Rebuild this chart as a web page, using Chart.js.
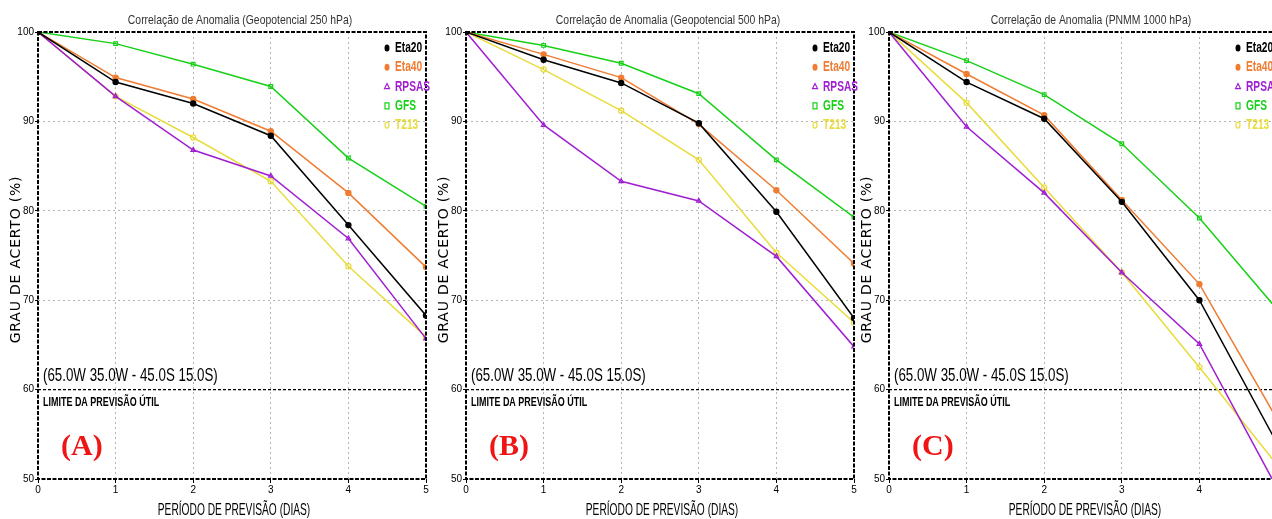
<!DOCTYPE html>
<html>
<head>
<meta charset="utf-8">
<script src="https://cdn.jsdelivr.net/npm/chart.js@4"></script>
<style>
  html, body { margin: 0; padding: 0; background: #fff; }
  body { width: 1272px; height: 519px; overflow: hidden; position: relative; }
  canvas { position: absolute; top: 0; }
</style>
</head>
<body>
<canvas id="chartA" width="440" height="519" style="left:0px"></canvas>
<canvas id="chartB" width="440" height="519" style="left:428px"></canvas>
<canvas id="chartC" width="440" height="519" style="left:851px"></canvas>
<script>
// forecast day (x) and models
const days = [0, 1, 2, 3, 4, 5];
const modelNames = ['Eta20', 'Eta40', 'RPSAS', 'GFS', 'T213'];
const yTickValues = [50, 60, 70, 80, 90, 100];
const limitValue = 60;

const panelTitles = [
  'Correlação de Anomalia (Geopotencial 250 hPa)',
  'Correlação de Anomalia (Geopotencial 500 hPa)',
  'Correlação de Anomalia (PNMM 1000 hPa)',
];
const panelLetters = ['(A)', '(B)', '(C)'];
const regionLabel = '(65.0W 35.0W - 45.0S 15.0S)';
const limitLabel = 'LIMITE DA PREVISÃO ÚTIL';
const xTitle = 'PERÍODO DE PREVISÃO (DIAS)';
const yTitle = 'GRAU DE ACERTO (%)';

// (A) geopotential 250 hPa
const z250Eta20 = [100, 94.4, 92.0, 88.4, 78.4, 68.3];
const z250Eta40 = [100, 94.9, 92.5, 88.9, 82.0, 73.7];
const z250Rpsas = [100, 92.8, 86.8, 83.9, 76.9, 65.7];
const z250Gfs   = [100, 98.7, 96.4, 93.9, 85.9, 80.5];
const z250T213  = [100, 92.8, 88.2, 83.3, 73.8, 65.9];

// (B) geopotential 500 hPa
const z500Eta20 = [100, 96.9, 94.3, 89.8, 79.9, 68.0];
const z500Eta40 = [100, 97.5, 94.9, 89.7, 82.3, 74.1];
const z500Rpsas = [100, 89.6, 83.3, 81.1, 74.9, 64.8];
const z500Gfs   = [100, 98.5, 96.5, 93.1, 85.7, 79.3];
const z500T213  = [100, 95.8, 91.2, 85.7, 75.3, 67.5];

// (C) sea level pressure 1000 hPa
const p1000Eta20 = [100, 94.4, 90.3, 81.0, 70.0, 54.0];
const p1000Eta40 = [100, 95.3, 90.7, 81.2, 71.8, 56.7];
const p1000Rpsas = [100, 89.4, 82.0, 73.1, 65.1, 49.0];
const p1000Gfs   = [100, 96.8, 93.0, 87.5, 79.2, 69.0];
const p1000T213  = [100, 92.1, 82.6, 73.1, 62.5, 51.6];

// styles
const seriesColors = ['#000000', '#f07c32', '#a01ed2', '#18d018', '#e8dc3c'];
const pointStyles = ['circle', 'circle', 'triangle', 'rect', 'circle'];
const pointFilled = [true, true, false, false, false];

const NARROW = '"Liberation Sans", sans-serif';

// draw horizontally squeezed text (the original uses a narrow plotter font)
function squeezedText(ctx, text, x, y, font, color, align, sx) {
  ctx.save();
  ctx.font = font;
  ctx.fillStyle = color;
  ctx.textAlign = align;
  ctx.textBaseline = 'middle';
  ctx.translate(x, y);
  ctx.scale(sx, 1);
  ctx.fillText(text, 0, 0);
  ctx.restore();
}

function legendMarker(ctx, i, x, y) {
  ctx.save();
  ctx.strokeStyle = seriesColors[i];
  ctx.fillStyle = seriesColors[i];
  ctx.lineWidth = 1.2;
  ctx.beginPath();
  if (pointStyles[i] === 'circle' && pointFilled[i]) {
    ctx.ellipse(x, y, 2.5, 3.5, 0, 0, Math.PI * 2);
    ctx.fill();
  } else if (pointStyles[i] === 'circle') {
    ctx.ellipse(x, y, 2, 3, 0, 0, Math.PI * 2);
    ctx.stroke();
  } else if (pointStyles[i] === 'triangle') {
    ctx.moveTo(x, y - 3);
    ctx.lineTo(x + 2.5, y + 2);
    ctx.lineTo(x - 2.5, y + 2);
    ctx.closePath();
    ctx.stroke();
  } else {
    ctx.rect(x - 2, y - 3, 4, 6);
    ctx.stroke();
  }
  ctx.restore();
}

const panelDecor = {
  id: 'panelDecor',
  beforeDatasetsDraw(chart, args, opts) {
    const { ctx, chartArea } = chart;
    const y = chart.scales.y.getPixelForValue(limitValue);
    ctx.save();
    ctx.strokeStyle = '#000';
    ctx.lineWidth = 1.2;
    ctx.setLineDash([3, 2]);
    ctx.beginPath();
    ctx.moveTo(chartArea.left, y);
    ctx.lineTo(chartArea.right, y);
    ctx.stroke();
    ctx.restore();
  },
  afterDraw(chart, args, opts) {
    const { ctx, chartArea } = chart;
    const { left, right, top, bottom } = chartArea;
    const cx = (left + right) / 2;
    const yLimit = chart.scales.y.getPixelForValue(limitValue);

    // dashed frame
    ctx.save();
    ctx.strokeStyle = '#000';
    ctx.lineWidth = 2;
    ctx.setLineDash([4, 1.5]);
    ctx.strokeRect(left, top, right - left, bottom - top);
    ctx.restore();

    // title
    squeezedText(ctx, opts.title, cx + 8, 20, '13px ' + NARROW, '#333', 'center', 0.8);

    // x title
    squeezedText(ctx, xTitle, cx + 2, 510, '17px ' + NARROW, '#000', 'center', 0.6);

    // y title
    ctx.save();
    ctx.translate(left - 22, (top + bottom) / 2 + 4);
    ctx.rotate(-Math.PI / 2);
    ctx.font = '14px "DejaVu Sans", sans-serif';
    ctx.fillStyle = '#000';
    ctx.textAlign = 'center';
    ctx.textBaseline = 'middle';
    ctx.letterSpacing = '0.8px';
    ctx.fillText(yTitle, 0, 0);
    ctx.restore();

    // region + limit texts
    squeezedText(ctx, regionLabel, left + 5, yLimit - 14, '18px ' + NARROW, '#000', 'left', 0.74);
    squeezedText(ctx, limitLabel, left + 5, yLimit + 13, 'bold 13px ' + NARROW, '#000', 'left', 0.69);

    // panel letter
    ctx.save();
    ctx.font = 'bold 30px "Liberation Serif", serif';
    ctx.fillStyle = '#f01414';
    ctx.textAlign = 'left';
    ctx.textBaseline = 'middle';
    ctx.fillText(opts.letter, left + 23, bottom - 32);
    ctx.restore();

    // legend
    modelNames.forEach((name, i) => {
      const y = top + 16 + i * 19.3;
      legendMarker(ctx, i, right - 39, y);
      squeezedText(ctx, name, right - 31, y, 'bold 15px ' + NARROW, seriesColors[i], 'left', 0.68);
    });
  },
};

function makeDatasets(series) {
  return series.map((values, i) => ({
    label: modelNames[i],
    data: days.map((d, j) => ({ x: d, y: values[j] })),
    borderColor: seriesColors[i],
    backgroundColor: pointFilled[i] ? seriesColors[i] : 'rgba(255,255,255,0)',
    borderWidth: 1.5,
    pointStyle: pointStyles[i],
    pointRadius: 2.6,
    pointBorderWidth: 1.2,
    tension: 0,
  }));
}

function makeChart(id, series, idx) {
  const gridColor = (vals) => (c) => (vals.includes(c.tick.value) ? 'rgba(0,0,0,0)' : '#b4b4b4');
  return new Chart(document.getElementById(id), {
    type: 'line',
    data: { datasets: makeDatasets(series) },
    options: {
      responsive: false,
      animation: false,
      layout: { padding: { left: 0, right: 14, top: 32, bottom: 0 } },
      plugins: {
        legend: { display: false },
        tooltip: { enabled: false },
        panelDecor: { title: panelTitles[idx], letter: panelLetters[idx] },
      },
      scales: {
        x: {
          type: 'linear',
          min: 0,
          max: 5,
          afterFit: (s) => { s.height = 40; },
          ticks: {
            stepSize: 1,
            color: '#000',
            padding: 1,
            font: { size: 10, family: NARROW },
            maxRotation: 0,
          },
          grid: { color: gridColor([0, 5]), tickColor: '#000', tickLength: 4, lineWidth: 1 },
          border: { display: false, dash: [2, 3] },
        },
        y: {
          min: 50,
          max: 100,
          afterFit: (s) => { s.width = 38; },
          afterBuildTicks: (s) => { s.ticks = yTickValues.map((v) => ({ value: v })); },
          ticks: {
            color: '#000',
            padding: 1,
            font: { size: 10, family: NARROW },
          },
          grid: { color: gridColor([50, 60, 100]), tickColor: '#000', tickLength: 3, lineWidth: 1 },
          border: { display: false, dash: [2, 3] },
        },
      },
    },
    plugins: [panelDecor],
  });
}

makeChart('chartA', [z250Eta20, z250Eta40, z250Rpsas, z250Gfs, z250T213], 0);
makeChart('chartB', [z500Eta20, z500Eta40, z500Rpsas, z500Gfs, z500T213], 1);
makeChart('chartC', [p1000Eta20, p1000Eta40, p1000Rpsas, p1000Gfs, p1000T213], 2);
</script>
</body>
</html>
